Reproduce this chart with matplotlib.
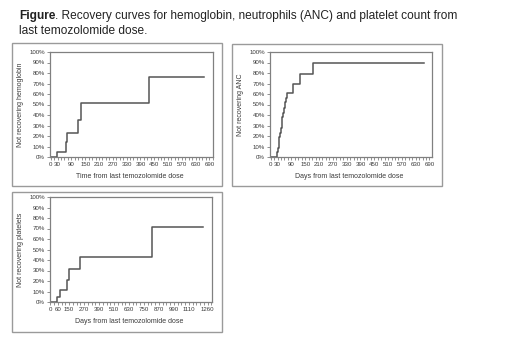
import matplotlib
matplotlib.use("Agg")
import matplotlib.pyplot as plt
from matplotlib.patches import Rectangle
from matplotlib.ticker import FixedLocator, MultipleLocator

plt.rcParams['font.family'] = ['Liberation Sans', 'DejaVu Sans']

# ---- data (days, % not recovering) ----
hgb_days = [0, 29, 66, 72, 120, 130, 428, 668]
hgb_pct = [0, 4.3, 14.5, 22.7, 35.5, 51.7, 75.9, 75.9]

anc_days = [0, 29, 32, 35, 37, 40, 43, 47, 50, 54, 57, 61, 65, 70, 98, 129, 183, 667]
anc_pct = [0, 4.5, 9, 14, 19, 23, 28, 33, 38, 42, 47, 52, 56, 61.4, 69.3, 79.1, 89.9, 89.9]

plt_days = [0, 52, 76, 132, 148, 241, 812, 1225]
plt_pct = [0, 5.0, 11.4, 21.0, 31.6, 43.0, 71.5, 71.5]

yticks = list(range(0, 101, 10))
ytick_labels = [f"{v}%" for v in yticks]
xticks_short = [0, 30, 90, 150, 210, 270, 330, 390, 450, 510, 570, 630, 690]
xticks_long = [0, 60, 150, 270, 390, 510, 630, 750, 870, 990, 1110, 1260]

title_bold = "Figure"
title_rest = ". Recovery curves for hemoglobin, neutrophils (ANC) and platelet count from"
title_line2 = "last temozolomide dose."

W, H = 520, 355
fig = plt.figure(figsize=(W / 100, H / 100), dpi=100)
fig.patch.set_facecolor('white')

TXT = '#3a3a3a'
LINE = '#555555'
FRAME = '#808080'


def px_rect(x0, y0, x1, y1):
    return [x0 / W, 1 - y1 / H, (x1 - x0) / W, (y1 - y0) / H]


# panel borders
for (x0, y0, x1, y1) in [(12, 43, 222, 186), (232, 44, 442, 186), (12, 192, 222, 332)]:
    fig.patches.append(Rectangle((x0 / W, 1 - y1 / H), (x1 - x0) / W, (y1 - y0) / H,
                                 transform=fig.transFigure, fill=False,
                                 edgecolor='#9a9a9a', linewidth=1.0))

panels = [
    dict(rect=px_rect(50, 52, 213, 157), days=hgb_days, pct=hgb_pct, xlim=(-3, 706),
         xt=xticks_short, minor=15, ylabel="Not recovering hemoglobin",
         xlabel="Time from last temozolomide dose"),
    dict(rect=px_rect(270, 52, 432, 157), days=anc_days, pct=anc_pct, xlim=(-3, 701),
         xt=xticks_short, minor=15, ylabel="Not recovering ANC",
         xlabel="Days from last temozolomide dose"),
    dict(rect=px_rect(50, 197, 212, 302), days=plt_days, pct=plt_pct, xlim=(-3, 1295),
         xt=xticks_long, minor=30, ylabel="Not recovering platelets",
         xlabel="Days from last temozolomide dose"),
]

for p in panels:
    ax = fig.add_axes(p['rect'])
    ax.step(p['days'], p['pct'], where='post', color=LINE, linewidth=1.1)
    ax.set_xlim(*p['xlim'])
    ax.set_ylim(0, 100)
    for s in ax.spines.values():
        s.set_color(FRAME)
        s.set_linewidth(0.9)
    ax.set_yticks(yticks)
    ax.set_yticklabels(ytick_labels)
    ax.xaxis.set_major_locator(FixedLocator(p['xt']))
    ax.set_xticklabels([str(v) for v in p['xt']])
    ax.xaxis.set_minor_locator(MultipleLocator(p['minor']))
    ax.tick_params(axis='both', which='both', direction='out', length=2.5, width=0.6,
                   color=FRAME, labelsize=4.4, labelcolor=TXT, pad=1.2)
    ax.set_ylabel(p['ylabel'], fontsize=5, color=TXT)
    ax.set_xlabel(p['xlabel'], fontsize=5, color=TXT)
    bb = ax.get_position()
    axw = bb.width * W
    axh = bb.height * H
    ax.yaxis.set_label_coords(-26 / axw, 0.5)
    ax.xaxis.set_label_coords(0.49, -16 / axh)

# title
t1 = fig.text(19 / W, 1 - 16 / H, title_bold, fontsize=8.6, fontweight='bold',
              color='#222222', va='center', ha='left')
fig.canvas.draw()
bb = t1.get_window_extent(renderer=fig.canvas.get_renderer())
fig.text(bb.x1 / (W), 1 - 16 / H, title_rest, fontsize=8.6, color='#222222',
         va='center', ha='left')
fig.text(19 / W, 1 - 31 / H, title_line2, fontsize=8.6, color='#222222',
         va='center', ha='left')

fig.savefig("out.png", dpi=100, facecolor='white')
